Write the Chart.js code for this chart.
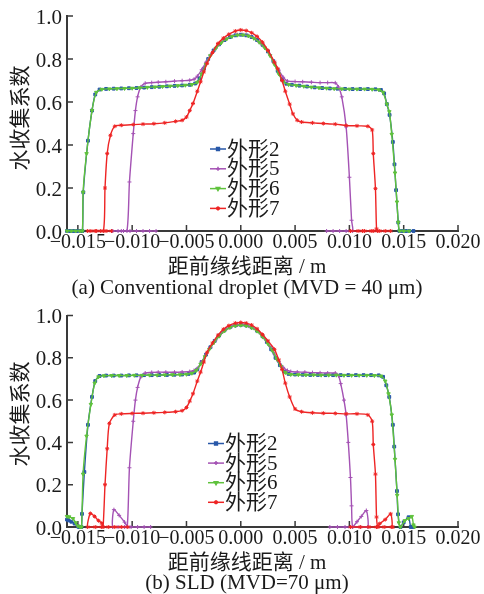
<!DOCTYPE html>
<html>
<head>
<meta charset="utf-8">
<script src="https://cdn.jsdelivr.net/npm/chart.js@4.4.0/dist/chart.umd.min.js"></script>
<style>
  html, body { margin: 0; padding: 0; background: #fff; }
  canvas { display: block; }
</style>
</head>
<body>
<canvas id="chartA" width="484" height="300"></canvas>
<canvas id="chartB" width="484" height="294"></canvas>
<script>
// --- DATA ---
const seriesNames = ['外形2', '外形5', '外形6', '外形7'];
const xTickValues = [-0.015, -0.010, -0.005, 0.000, 0.005, 0.010, 0.015, 0.020];
const yTickValues = [0, 0.2, 0.4, 0.6, 0.8, 1.0];

// (a) conventional droplet, MVD = 40 um  -- [distance, collection efficiency]
const shape2A = [[-0.0160,0],[-0.0157,0],[-0.0154,0],[-0.0151,0],[-0.0148,0],[-0.01458,0],[-0.0145,0.18],[-0.01407,0.42],[-0.0137,0.56],[-0.0134,0.635],[-0.0130,0.658],[-0.0124,0.661],
  [-0.0117,0.662],[-0.0110,0.663],[-0.0103,0.664],[-0.0096,0.665],[-0.0089,0.667],[-0.0082,0.669],[-0.0075,0.671],[-0.0068,0.673],[-0.0061,0.675],[-0.0054,0.677],[-0.0047,0.68],
  [-0.0042,0.686],[-0.0038,0.71],[-0.0034,0.755],[-0.0030,0.80],[-0.0025,0.84],[-0.0020,0.868],[-0.0015,0.888],[-0.0010,0.902],[-0.0005,0.91],[0,0.913],[0.0005,0.91],[0.0010,0.902],
  [0.0015,0.888],[0.0020,0.866],[0.0025,0.835],[0.0030,0.79],[0.0034,0.745],[0.0038,0.705],[0.0042,0.685],[0.0047,0.68],[0.0054,0.676],[0.0061,0.672],[0.0068,0.668],[0.0075,0.665],
  [0.0082,0.663],[0.0089,0.662],[0.0096,0.661],[0.0103,0.66],[0.0110,0.66],[0.0117,0.66],[0.0124,0.659],[0.0129,0.656],[0.0132,0.64],[0.01345,0.59],[0.0137,0.54],[0.0140,0.414],
  [0.01415,0.31],[0.0143,0.19],[0.0145,0.04],[0.0146,0],[0.0149,0],[0.0152,0],[0.0155,0],[0.0159,0]];
const shape5A = [[-0.0078,0],[-0.0084,0],[-0.0090,0],[-0.0096,0],[-0.0102,0],[-0.0108,0],[-0.0113,0],[-0.0118,0],[-0.0110,0],[-0.01048,0],[-0.01025,0.228],[-0.0099,0.453],
  [-0.0097,0.56],[-0.0095,0.624],[-0.0092,0.67],[-0.0088,0.687],[-0.0082,0.69],[-0.0076,0.692],[-0.0069,0.694],[-0.0061,0.697],[-0.0054,0.699],[-0.0047,0.701],[-0.0043,0.706],
  [-0.0040,0.72],[-0.0036,0.75],[-0.0032,0.785],[-0.0028,0.818],[-0.0023,0.85],[-0.0018,0.876],[-0.0013,0.894],[-0.0008,0.906],[-0.0003,0.912],[0.0002,0.913],[0.0007,0.908],
  [0.0012,0.897],[0.0017,0.878],[0.0022,0.853],[0.0027,0.82],[0.0031,0.785],[0.0035,0.748],[0.0039,0.715],[0.0043,0.697],[0.0050,0.695],[0.0057,0.694],[0.0065,0.692],
  [0.0073,0.69],[0.0080,0.69],[0.0087,0.689],[0.0090,0.67],[0.0093,0.624],[0.0097,0.484],[0.0100,0.25],[0.0102,0.05],[0.0103,0],[0.0097,0],[0.0091,0],[0.0085,0],[0.0079,0]];
const shape6A = [[-0.0160,0],[-0.0156,0],[-0.0152,0],[-0.0148,0],[-0.01458,0],[-0.01452,0.18],[-0.0142,0.36],[-0.0137,0.56],[-0.0133,0.645],[-0.0128,0.659],[-0.0121,0.661],
  [-0.0114,0.662],[-0.0107,0.663],[-0.0100,0.664],[-0.0093,0.666],[-0.0086,0.668],[-0.0079,0.67],[-0.0072,0.672],[-0.0065,0.674],[-0.0058,0.676],[-0.0051,0.678],[-0.0045,0.681],
  [-0.0040,0.692],[-0.0036,0.73],[-0.0032,0.775],[-0.0028,0.815],[-0.0023,0.85],[-0.0018,0.875],[-0.0013,0.893],[-0.0008,0.905],[-0.0003,0.911],[0.0002,0.912],[0.0007,0.907],
  [0.0012,0.896],[0.0017,0.878],[0.0022,0.852],[0.0027,0.815],[0.0031,0.775],[0.0035,0.73],[0.0039,0.695],[0.0044,0.681],[0.0051,0.677],[0.0058,0.673],[0.0065,0.669],
  [0.0072,0.666],[0.0079,0.664],[0.0086,0.662],[0.0093,0.661],[0.0100,0.66],[0.0107,0.66],[0.0114,0.66],[0.0121,0.659],[0.0127,0.657],[0.0131,0.645],[0.01345,0.59],
  [0.01368,0.555],[0.0139,0.45],[0.0142,0.27],[0.01438,0.135],[0.0145,0.04],[0.01462,0],[0.0150,0],[0.0155,0]];
const shape7A = [[-0.0119,0],[-0.0124,0],[-0.0129,0],[-0.0134,0],[-0.0138,0],[-0.0141,0],[-0.0133,0],[-0.01265,0],[-0.0125,0.2],[-0.0123,0.36],[-0.0120,0.445],[-0.0116,0.487],
  [-0.0110,0.492],[-0.0099,0.495],[-0.0090,0.497],[-0.0080,0.499],[-0.0070,0.503],[-0.0060,0.51],[-0.0054,0.515],[-0.0050,0.53],[-0.0047,0.56],[-0.0044,0.593],[-0.0040,0.65],
  [-0.0037,0.694],[-0.0034,0.74],[-0.0031,0.78],[-0.0026,0.83],[-0.0021,0.872],[-0.0016,0.897],[-0.0011,0.915],[-0.0005,0.93],[0,0.935],[0.0005,0.932],[0.0010,0.922],
  [0.0015,0.905],[0.0020,0.878],[0.0025,0.84],[0.0031,0.785],[0.0034,0.755],[0.0038,0.7],[0.0041,0.65],[0.0045,0.59],[0.0048,0.545],[0.0052,0.515],[0.0056,0.507],
  [0.0066,0.503],[0.0076,0.50],[0.0087,0.497],[0.0097,0.491],[0.0107,0.489],[0.0117,0.487],[0.0121,0.47],[0.0122,0.36],[0.0124,0.197],[0.0125,0.01],[0.0126,0],
  [0.0120,0],[0.0114,0],[0.0108,0],[0.0101,0],[0.0112,0],[0.0122,0],[0.0128,0],[0.0133,0],[0.0138,0]];

// (b) SLD, MVD = 70 um
const shape2B = [[-0.0160,0.035],[-0.01585,0.031],[-0.0156,0.025],[-0.0153,0.016],[-0.0150,0.003],[-0.0149,0],[-0.01468,0],[-0.01462,0.062],[-0.0144,0.26],[-0.01407,0.483],
  [-0.0137,0.615],[-0.0134,0.69],[-0.0130,0.714],[-0.0124,0.716],[-0.0117,0.716],[-0.0110,0.716],[-0.0103,0.717],[-0.0096,0.717],[-0.0089,0.718],[-0.0082,0.718],[-0.0075,0.719],
  [-0.0068,0.719],[-0.0061,0.72],[-0.0054,0.721],[-0.0048,0.724],[-0.0043,0.73],[-0.0040,0.745],[-0.0036,0.78],[-0.0032,0.815],[-0.0028,0.85],[-0.0024,0.88],[-0.0020,0.905],
  [-0.0015,0.93],[-0.0010,0.945],[-0.0005,0.953],[0,0.956],[0.0005,0.953],[0.0010,0.944],[0.0015,0.928],[0.0020,0.902],[0.0024,0.875],[0.0028,0.84],[0.0032,0.80],[0.0036,0.765],
  [0.0040,0.735],[0.0044,0.724],[0.0050,0.721],[0.0057,0.72],[0.0064,0.719],[0.0071,0.719],[0.0078,0.718],[0.0085,0.718],[0.0092,0.718],[0.0099,0.718],[0.0106,0.718],
  [0.0113,0.718],[0.0120,0.718],[0.0127,0.717],[0.0131,0.71],[0.0134,0.67],[0.01367,0.615],[0.0140,0.483],[0.01413,0.38],[0.01438,0.17],[0.01448,0.06],[0.0147,0],
  [0.0150,0.022],[0.01545,0.046],[0.01565,0],[0.0159,0]];
const shape5B = [[-0.0083,0],[-0.0089,0],[-0.0095,0],[-0.0101,0],[-0.0107,0],[-0.0113,0],[-0.0118,0],[-0.01168,0.082],[-0.0112,0.055],[-0.0107,0.023],[-0.01045,0.002],
  [-0.01025,0.28],[-0.0099,0.5],[-0.0097,0.6],[-0.0095,0.66],[-0.0092,0.71],[-0.0088,0.728],[-0.0082,0.731],[-0.0076,0.732],[-0.0069,0.732],[-0.0061,0.732],[-0.0054,0.733],
  [-0.0047,0.735],[-0.0043,0.74],[-0.0040,0.75],[-0.0036,0.78],[-0.0032,0.815],[-0.0028,0.848],[-0.0023,0.885],[-0.0018,0.915],[-0.0013,0.936],[-0.0008,0.949],[-0.0003,0.955],
  [0.0002,0.956],[0.0007,0.95],[0.0012,0.94],[0.0017,0.92],[0.0022,0.89],[0.0027,0.853],[0.0031,0.818],[0.0035,0.783],[0.0039,0.755],[0.0043,0.74],[0.0046,0.735],
  [0.0052,0.733],[0.0059,0.732],[0.0066,0.73],[0.0073,0.729],[0.0080,0.728],[0.0087,0.728],[0.0090,0.715],[0.0092,0.678],[0.0095,0.6],[0.0097,0.53],[0.0099,0.4],
  [0.0101,0.234],[0.0102,0.1],[0.0103,0],[0.0107,0.025],[0.0111,0.05],[0.01156,0.078],[0.0117,0],[0.0110,0],[0.0103,0],[0.0096,0],[0.0089,0],[0.0082,0]];
const shape6B = [[-0.0160,0.05],[-0.0158,0.048],[-0.01545,0.04],[-0.0152,0.02],[-0.0150,0.005],[-0.0148,0],[-0.01466,0],[-0.01452,0.25],[-0.0142,0.43],[-0.0138,0.58],
  [-0.01345,0.68],[-0.0131,0.71],[-0.0126,0.715],[-0.0119,0.716],[-0.0112,0.716],[-0.0105,0.716],[-0.0098,0.717],[-0.0091,0.717],[-0.0084,0.718],[-0.0077,0.718],[-0.0070,0.719],
  [-0.0063,0.72],[-0.0056,0.72],[-0.0050,0.722],[-0.0045,0.727],[-0.0041,0.74],[-0.0037,0.77],[-0.0033,0.805],[-0.0029,0.84],[-0.0025,0.87],[-0.0020,0.902],[-0.0015,0.927],
  [-0.0010,0.943],[-0.0005,0.951],[0,0.954],[0.0005,0.951],[0.0010,0.942],[0.0015,0.926],[0.0020,0.9],[0.0025,0.866],[0.0029,0.835],[0.0033,0.795],[0.0037,0.76],[0.0041,0.73],
  [0.0046,0.721],[0.0053,0.72],[0.0060,0.719],[0.0067,0.719],[0.0074,0.718],[0.0081,0.718],[0.0088,0.718],[0.0095,0.717],[0.0102,0.717],[0.0109,0.717],[0.0116,0.717],
  [0.0123,0.716],[0.0129,0.714],[0.0133,0.69],[0.0136,0.63],[0.0139,0.53],[0.0142,0.32],[0.0144,0.15],[0.01455,0.02],[0.0147,0],[0.0151,0.03],[0.01545,0.04],[0.01575,0.05],
  [0.0159,0.01],[0.0160,0]];
const shape7B = [[-0.0104,0],[-0.0110,0],[-0.0116,0],[-0.0122,0],[-0.0128,0],[-0.0134,0],[-0.0141,0],[-0.01385,0.064],[-0.01346,0.05],[-0.0131,0.03],[-0.0128,0.018],
  [-0.01268,0],[-0.0125,0.2],[-0.0123,0.37],[-0.0121,0.49],[-0.0116,0.53],[-0.0110,0.535],[-0.0100,0.537],[-0.0090,0.538],[-0.0080,0.54],[-0.0070,0.542],[-0.0060,0.545],
  [-0.0054,0.55],[-0.0050,0.565],[-0.0047,0.595],[-0.0044,0.63],[-0.0040,0.69],[-0.0037,0.732],[-0.0034,0.78],[-0.0031,0.826],[-0.0026,0.87],[-0.0021,0.907],[-0.0016,0.935],
  [-0.0011,0.952],[-0.0005,0.964],[0,0.967],[0.0005,0.964],[0.0010,0.955],[0.0015,0.937],[0.0020,0.91],[0.0025,0.88],[0.0031,0.84],[0.0035,0.79],[0.0038,0.745],[0.0041,0.68],
  [0.0045,0.615],[0.0050,0.558],[0.0056,0.545],[0.0066,0.54],[0.0076,0.538],[0.0087,0.537],[0.0097,0.535],[0.0107,0.535],[0.0117,0.53],[0.0121,0.5],[0.0122,0.39],
  [0.0124,0.25],[0.0125,0.047],[0.01262,0],[0.0128,0.016],[0.0133,0.035],[0.0138,0.062],[0.0139,0],[0.0132,0],[0.0125,0],[0.0118,0],[0.0110,0],[0.0101,0],[0.0140,0]];

// --- STYLE ---
const seriesColors = ['#2757a8', '#a452b4', '#5fc23c', '#ee2424'];
const markerStyles = ['rect', 'cross', 'triangle', 'star'];
const markerRotations = [0, 0, 180, 0];
const axisColor = '#3a3a3a';
const textColor = '#1a1a1a';
const serifFamily = '"Liberation Serif", "Noto Sans CJK SC", serif';

function fmtX(v) {
    return (v < -1e-9 ? '\u2212' : '') + Math.abs(v).toFixed(3);
}

// ticks pointing inward, titles and the legend box
const decorPlugin = {
    id: 'decor',
    beforeDatasetsDraw(chart) {
        const { ctx, chartArea, scales: { x, y } } = chart;
        ctx.save();
        ctx.strokeStyle = axisColor;
        ctx.lineWidth = 1.5;
        ctx.beginPath();
        x.ticks.forEach(t => {
            const px = x.getPixelForValue(t.value);
            ctx.moveTo(px, chartArea.bottom);
            ctx.lineTo(px, chartArea.bottom - 6);
        });
        y.ticks.forEach(t => {
            if (t.value === 0) return;
            const py = y.getPixelForValue(t.value);
            ctx.moveTo(chartArea.left, py);
            ctx.lineTo(chartArea.left + 6, py);
        });
        ctx.stroke();
        ctx.restore();
    },
    afterDraw(chart, args, opts) {
        const ctx = chart.ctx;
        ctx.save();
        ctx.fillStyle = textColor;
        ctx.font = '21px ' + serifFamily;
        ctx.textAlign = 'center';
        ctx.textBaseline = 'middle';
        ctx.fillText(opts.xTitle, opts.centerX, opts.xTitleY);
        ctx.fillText(opts.caption, opts.centerX, opts.captionY);

        ctx.save();
        ctx.translate(opts.yTitleX, opts.yTitleY);
        ctx.rotate(-Math.PI / 2);
        ctx.fillText(opts.yTitle, 0, 0);
        ctx.restore();

        // legend
        chart.data.datasets.forEach((ds, i) => {
            const ly = opts.legendY + i * opts.legendRow;
            ctx.strokeStyle = ds.borderColor;
            ctx.fillStyle = ds.borderColor;
            ctx.lineWidth = 1.5;
            ctx.beginPath();
            ctx.moveTo(opts.legendX, ly);
            ctx.lineTo(opts.legendX + 16, ly);
            ctx.stroke();
            if (Chart.helpers && Chart.helpers.drawPoint) {
                Chart.helpers.drawPoint(ctx, { pointStyle: ds.pointStyle, rotation: ds.pointRotation, radius: 2, borderWidth: 1 }, opts.legendX + 8, ly);
            }
            ctx.fillStyle = textColor;
            ctx.textAlign = 'left';
            ctx.fillText(ds.label, opts.legendX + 17, ly + 1);
        });
        ctx.restore();
    }
};

function buildChart(canvasId, seriesData, frame, texts) {
    const datasets = seriesData.map((pts, i) => ({
        label: seriesNames[i],
        data: pts.map(([x, y]) => ({ x, y })),
        borderColor: seriesColors[i],
        backgroundColor: seriesColors[i],
        borderWidth: 1.4,
        pointStyle: markerStyles[i],
        pointRotation: markerRotations[i],
        pointRadius: 2,
        pointBorderWidth: 1,
        tension: 0.25,
        clip: false,
        order: seriesData.length - i
    }));

    return new Chart(document.getElementById(canvasId), {
        type: 'line',
        data: { datasets },
        plugins: [decorPlugin],
        options: {
            responsive: false,
            animation: false,
            devicePixelRatio: 1,
            layout: { padding: { top: frame.top, right: 26, left: 0, bottom: 0 } },
            plugins: {
                legend: { display: false },
                tooltip: { enabled: false },
                decor: texts
            },
            scales: {
                x: {
                    type: 'linear',
                    min: -0.016,
                    max: 0.02,
                    afterBuildTicks: s => { s.ticks = xTickValues.map(v => ({ value: v })); },
                    afterFit: s => { s.height = frame.xHeight; },
                    grid: { display: false, drawTicks: false },
                    border: { color: axisColor, width: 2 },
                    ticks: {
                        autoSkip: false, maxRotation: 0, minRotation: 0, padding: 2,
                        color: textColor,
                        font: { family: serifFamily, size: 20, lineHeight: 1 },
                        callback: v => fmtX(v)
                    }
                },
                y: {
                    min: 0,
                    max: 1,
                    afterBuildTicks: s => { s.ticks = yTickValues.map(v => ({ value: v })); },
                    afterFit: s => { s.width = 67; },
                    grid: { display: false, drawTicks: false },
                    border: { color: axisColor, width: 2 },
                    ticks: {
                        padding: 5, labelOffset: 2,
                        color: textColor,
                        font: { family: serifFamily, size: 21, lineHeight: 1 },
                        callback: v => v.toFixed(1)
                    }
                }
            }
        }
    });
}

buildChart('chartA', [shape2A, shape5A, shape6A, shape7A], { top: 16, xHeight: 69 }, {
    xTitle: '距前缘线距离 / m',
    caption: '(a) Conventional droplet (MVD = 40 \u03bcm)',
    yTitle: '水收集系数',
    centerX: 247, xTitleY: 267, captionY: 288,
    yTitleX: 21, yTitleY: 118,
    legendX: 210, legendY: 149, legendRow: 19.8
});

buildChart('chartB', [shape2B, shape5B, shape6B, shape7B], { top: 13, xHeight: 67 }, {
    xTitle: '距前缘线距离 / m',
    caption: '(b) SLD (MVD=70 \u03bcm)',
    yTitle: '水收集系数',
    centerX: 247, xTitleY: 263, captionY: 283,
    yTitleX: 21, yTitleY: 114,
    legendX: 208, legendY: 143.5, legendRow: 19.6
});
</script>
</body>
</html>
